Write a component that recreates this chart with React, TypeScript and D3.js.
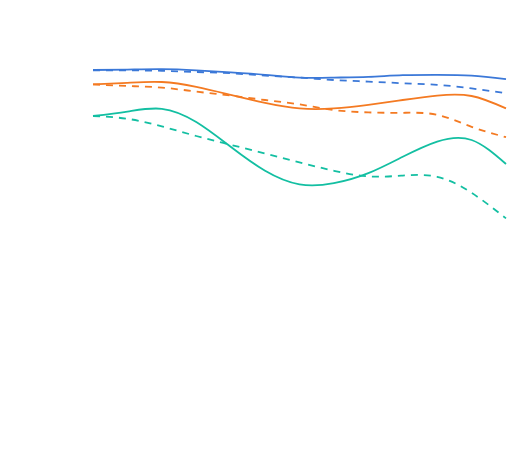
import * as d3 from "d3";
import { useEffect, useRef } from "react";

// thirteen evenly spaced steps along x
const steps = d3.range(13);

// values (higher = further up)
const blueActual = [87.5, 87.6, 87.7, 87.4, 86.9, 86.3, 85.6, 85.6, 85.8, 86.2, 86.3, 86.1, 85.2];
const blueTarget = [87.4, 87.4, 87.3, 87.0, 86.7, 86.1, 85.6, 85.0, 84.6, 84.2, 83.8, 82.9, 81.7];
const orangeActual = [83.9, 84.3, 84.5, 83.3, 81.3, 79.3, 77.9, 77.9, 78.8, 80.0, 81.1, 81.0, 77.9];
const orangeTarget = [83.9, 83.5, 83.1, 82.1, 81.1, 80.0, 78.9, 77.5, 76.9, 76.8, 76.3, 73.3, 70.7];
const tealActual = [76.0, 77.1, 77.8, 74.5, 68.3, 62.3, 58.9, 59.2, 61.7, 65.8, 69.6, 70.0, 64.0];
const tealTarget = [76.0, 75.3, 73.4, 71.0, 68.8, 66.6, 64.4, 62.3, 60.9, 61.1, 60.8, 56.8, 50.4];

const series = [
  { name: "blue", values: blueActual, color: "#3b78d8", dashed: false },
  { name: "blueTarget", values: blueTarget, color: "#3b78d8", dashed: true },
  { name: "orange", values: orangeActual, color: "#f47a22", dashed: false },
  { name: "orangeTarget", values: orangeTarget, color: "#f47a22", dashed: true },
  { name: "teal", values: tealActual, color: "#13bfa2", dashed: false },
  { name: "tealTarget", values: tealTarget, color: "#13bfa2", dashed: true },
];

const width = 508;
const height = 453;

function LineChart() {
  const ref = useRef<SVGSVGElement>(null);

  useEffect(() => {
    const svg = d3.select(ref.current);
    svg.selectAll("*").remove();

    const x = d3.scaleLinear().domain([0, 12]).range([93, 506]);
    const y = d3.scaleLinear().domain([0, 100]).range([420, 20]);

    const line = d3
      .line<number>()
      .x((_, i) => x(steps[i]))
      .y((d) => y(d))
      .curve(d3.curveNatural);

    svg
      .append("g")
      .selectAll("path")
      .data(series)
      .join("path")
      .attr("fill", "none")
      .attr("stroke", (d) => d.color)
      .attr("stroke-width", 1.8)
      .attr("stroke-dasharray", (d) => (d.dashed ? "7,6" : null))
      .attr("d", (d) => line(d.values)!);
  }, []);

  return (
    <svg
      ref={ref}
      width={width}
      height={height}
      style={{ position: "absolute", left: 0, top: 0 }}
    />
  );
}

export default function App() {
  return <LineChart />;
}
